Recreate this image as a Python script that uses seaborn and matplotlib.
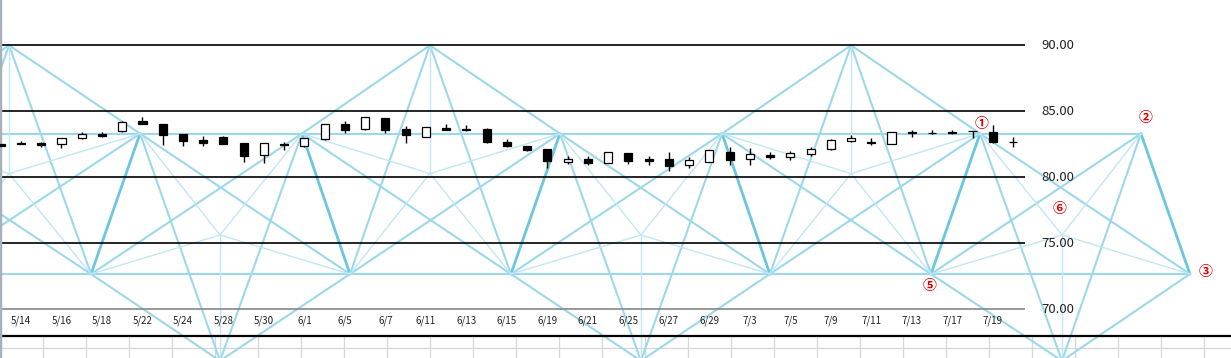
import numpy as np
import pandas as pd
import matplotlib
matplotlib.use("Agg")
import matplotlib.pyplot as plt
import seaborn as sns

# daily candles 5/11 - 7/20
dates = ["5/11", "5/14", "5/15", "5/16", "5/17", "5/18", "5/21", "5/22", "5/23", "5/24", "5/25",
         "5/28", "5/29", "5/30", "5/31", "6/1", "6/4", "6/5", "6/6", "6/7", "6/8",
         "6/11", "6/12", "6/13", "6/14", "6/15", "6/18", "6/19", "6/20", "6/21", "6/22",
         "6/25", "6/26", "6/27", "6/28", "6/29", "7/2", "7/3", "7/4", "7/5", "7/6",
         "7/9", "7/10", "7/11", "7/12", "7/13", "7/16", "7/17", "7/18", "7/19", "7/20"]
opens = [82.50, 82.60, 82.58, 82.50, 82.98, 83.25, 83.48, 84.26, 84.01, 83.26, 82.83,
         83.08, 82.58, 81.67, 82.55, 82.35, 82.93, 84.02, 83.64, 84.47, 83.64,
         83.08, 83.71, 83.66, 83.64, 82.65, 82.35, 82.12, 81.18, 81.36, 81.11,
         81.82, 81.37, 81.36, 80.95, 81.18, 81.92, 81.36, 81.66, 81.51, 81.76,
         82.14, 82.75, 82.67, 82.52, 83.40, 83.35, 83.40, 83.52, 83.46, 82.67]
closes = [82.40, 82.50, 82.46, 82.95, 83.26, 83.15, 84.21, 84.04, 83.23, 82.75, 82.62,
          82.52, 81.64, 82.58, 82.45, 82.95, 84.02, 83.56, 84.55, 83.58, 83.23,
          83.79, 83.61, 83.56, 82.65, 82.40, 82.07, 81.23, 81.39, 81.06, 81.92,
          81.26, 81.26, 80.88, 81.29, 82.07, 81.31, 81.74, 81.56, 81.86, 82.14,
          82.83, 82.95, 82.57, 83.41, 83.37, 83.32, 83.37, 83.49, 82.65, 82.64]
highs = [82.55, 82.75, 82.67, 82.97, 83.41, 83.41, 84.23, 84.55, 84.05, 83.28, 83.13,
         83.10, 82.62, 82.60, 82.70, 83.00, 84.04, 84.27, 84.57, 84.50, 83.89,
         83.81, 84.04, 83.99, 83.70, 82.90, 82.40, 82.15, 81.58, 81.60, 81.95,
         81.84, 81.60, 81.90, 81.50, 82.09, 82.30, 82.20, 81.90, 82.00, 82.30,
         82.90, 83.18, 82.99, 83.43, 83.60, 83.60, 83.56, 83.52, 83.96, 83.03]
lows = [82.38, 82.50, 82.27, 82.20, 82.92, 83.08, 83.46, 84.00, 82.47, 82.40, 82.40,
        82.50, 81.14, 81.06, 82.07, 82.30, 82.80, 83.38, 83.62, 83.38, 82.62,
        83.06, 83.58, 83.50, 82.63, 82.30, 81.98, 80.68, 80.98, 80.90, 81.09,
        81.00, 80.90, 80.50, 80.70, 81.16, 80.90, 80.90, 81.36, 81.30, 81.60,
        82.10, 82.71, 82.43, 82.50, 83.05, 83.30, 83.28, 82.97, 82.63, 82.27]

price_ticks = [90, 85, 80, 75, 70]

# geometric pivots (candle position, price level)
top_level = 90.0
foot_level = 80.28
mid_level = 83.31
head_level = 75.63
low_level = 72.67
bottom_level = 66.1
top_x = [-20.39, 0.41, 21.20, 42.00]
bottom_x = [-10.02, 10.83, 31.62, 52.42]
mid_x = [-13.97, -6.01, 6.88, 14.88, 27.62, 35.63, 48.37, 56.32]
low_x = [-16.39, -3.59, 4.46, 17.25, 25.20, 37.99, 45.95, 58.74]
marks = ["①", "②", "③", "⑤", "⑥"]

# build the line segments from the pivots
verts = sorted([(x, "top") for x in top_x] + [(x, "bottom") for x in bottom_x])
segs = {"thick": [], "main": [], "thin": []}


def add(kind, p, q):
    segs[kind].append((p, q))


for k in range(len(mid_x)):
    m = (mid_x[k], mid_level)
    l = (low_x[k], low_level)
    ends = [verts[k]] + ([verts[k + 1]] if k + 1 < len(verts) else [])
    add("thick", m, l)
    for vx, kind in ends:
        if kind == "top":
            add("main", (vx, top_level), m)
            add("main", (vx, top_level), l)
            add("thin", (vx, foot_level), m)
            add("thin", (vx, foot_level), l)
        else:
            add("main", (vx, bottom_level), m)
            add("main", (vx, bottom_level), l)
            add("thin", (vx, head_level), m)
            add("thin", (vx, head_level), l)
for k in range(len(mid_x) - 1):
    add("main", (mid_x[k], mid_level), (low_x[k + 1], low_level))
    add("main", (mid_x[k + 1], mid_level), (low_x[k], low_level))
for x in top_x:
    add("thin", (x, top_level), (x, foot_level))
for x in bottom_x:
    add("thin", (x, bottom_level), (x, head_level))
add("main", (mid_x[0], mid_level), (mid_x[-1], mid_level))
add("main", (low_x[0], low_level), (low_x[-1], low_level))

sns.set_style("white")
plt.rcParams["font.family"] = ["Noto Sans CJK JP", "DejaVu Sans"]

W, H = 1231, 358
fig = plt.figure(figsize=(W / 100, H / 100), dpi=100)

# spreadsheet cells under the chart
axc = fig.add_axes([0, 0, 1, 22 / H])
axc.set_xlim(0, W)
axc.set_ylim(0, 22)
axc.set_xticks(np.arange(43, W, 43))
axc.set_yticks([10])
axc.grid(True, color="#d6d6d6", lw=0.9)
axc.tick_params(length=0, labelbottom=False, labelleft=False)
for s in axc.spines.values():
    s.set_visible(False)

ax = fig.add_axes([0, 0, 1, 1])
ax.set_facecolor("none")

styles = {"thick": ("#6cc6e0", 2.0), "main": ("#9cd8ea", 1.5), "thin": ("#c2e7f2", 1.0)}
for kind, lst in segs.items():
    rows = []
    for n, (p, q) in enumerate(lst):
        rows.append({"seg": n, "x": p[0], "y": p[1]})
        rows.append({"seg": n, "x": q[0], "y": q[1]})
    df = pd.DataFrame(rows)
    col, lw = styles[kind]
    sns.lineplot(data=df, x="x", y="y", units="seg", estimator=None, sort=False,
                 color=col, linewidth=lw, legend=False, ax=ax, zorder=1)

# axis scale matched to the screenshot (candle step ~20.2 px, 13.2 px per yen)
x0 = -0.755 / 20.245
x1 = (W - 0.755) / 20.245
ax.set_xlim(x0, x1)
ax.set_ylim(90 - (H - 45.3) / 13.2, 90 + 45.3 / 13.2)
xr = (1025 - 0.755) / 20.245

ax.hlines(price_ticks[:-1], x0, xr, color="black", lw=1.2, zorder=2)
ax.hlines(price_ticks[-1], x0, xr, color="#888888", lw=1.2, zorder=2)
for v in price_ticks:
    ax.text(xr + 0.8, v, f"{v:.2f}", fontsize=9.5, va="center", ha="left", color="#222222")

# bottom border line
ax.axhline(90 - (336 - 45.3) / 13.2, color="black", lw=1.6, zorder=2)

# candles
xi = np.arange(len(dates))
o = np.array(opens)
c = np.array(closes)
up = c > o
ax.vlines(xi, lows, highs, color="black", lw=1.0, zorder=3)
ax.bar(xi, np.abs(c - o), bottom=np.minimum(o, c), width=0.4,
       color=np.where(up, "white", "black"), edgecolor="black", linewidth=0.9, zorder=4)

for i in range(1, len(dates), 2):
    ax.text(i, 69.1, dates[i], fontsize=7, ha="center", va="center", color="#222222")

# circled marks
spots = [(mid_x[-2], mid_level, 1.4, 7.2), (mid_x[-1], mid_level, 3.6, 11.5),
         (low_x[-1], low_level, 11.5, 1.4), (low_x[-2], low_level, -1.4, -8.6),
         (bottom_x[-1], head_level, -1.4, 18.7)]
for lab, (px, py, dx, dy) in zip(marks, spots):
    ax.annotate(lab, (px, py), xytext=(dx, dy), textcoords="offset points",
                ha="center", va="center", color="#dd0000", fontsize=10, fontweight="bold")

ax.set_xlabel("")
ax.set_ylabel("")
ax.set_xticks([])
ax.set_yticks([])
for name, s in ax.spines.items():
    s.set_visible(name == "left")
ax.spines["left"].set_color("#a8b0b8")
ax.spines["left"].set_linewidth(2.5)

fig.savefig("out.png", dpi=100, facecolor="white")
